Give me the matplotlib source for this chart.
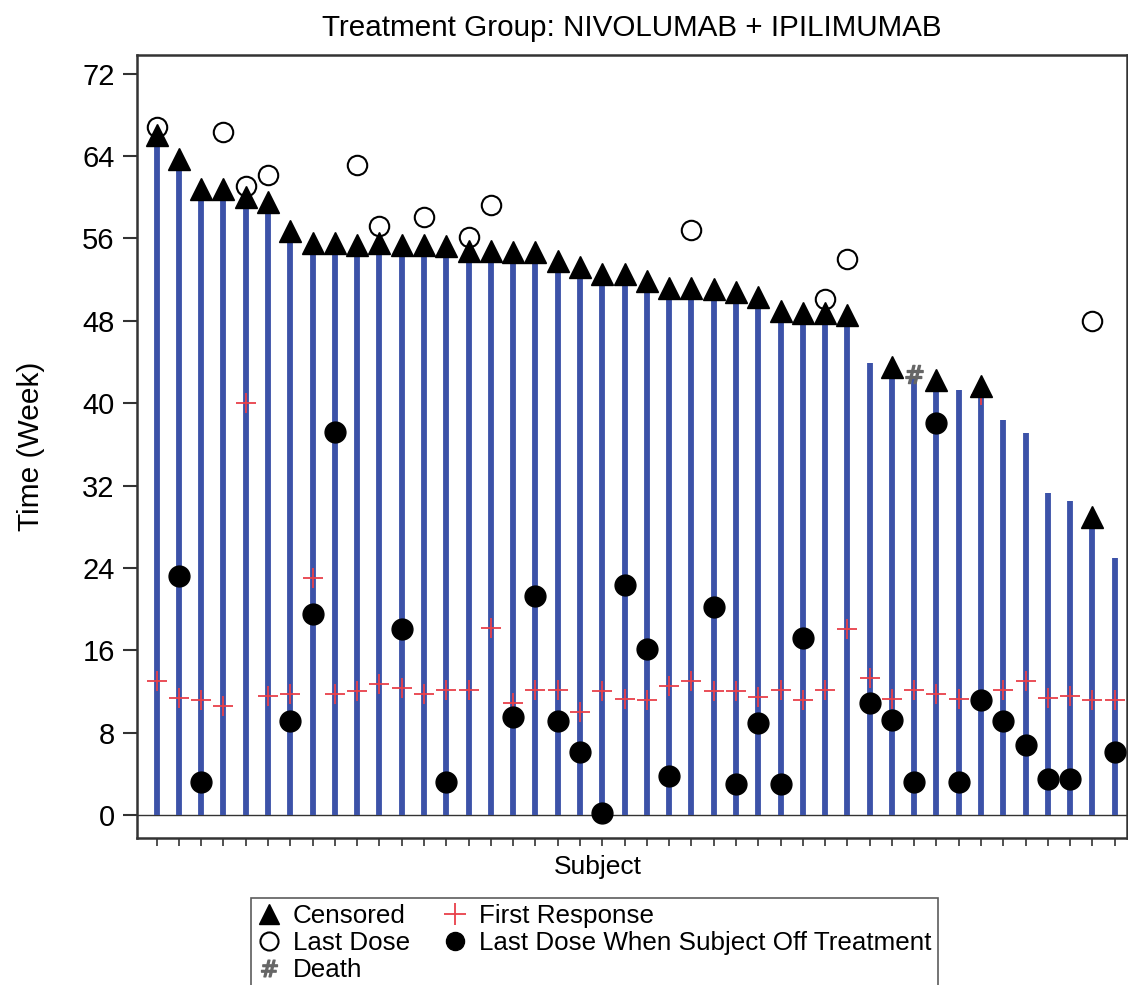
import numpy as np
import matplotlib
matplotlib.use("Agg")
import matplotlib.pyplot as plt
from matplotlib.lines import Line2D

plt.rcParams['font.family'] = ['Liberation Sans', 'DejaVu Sans']

nan = np.nan
# Bar end (weeks) per subject
bar_end = [66.0, 63.7, 60.8, 60.8, 60.0, 59.5, 56.7, 55.6, 55.6, 55.4,
           55.6, 55.4, 55.4, 55.3, 54.8, 54.8, 54.7, 54.7, 53.8, 53.2,
           52.5, 52.5, 51.9, 51.2, 51.2, 51.1, 50.8, 50.3, 49.0, 48.8,
           48.8, 48.6, 43.9, 43.5, 42.6, 42.3, 41.3, 41.7, 38.4, 37.1,
           31.3, 30.5, 29.0, 25.0]
# Censored (triangle) times
censored = [66.0, 63.7, 60.8, 60.8, 60.0, 59.5, 56.7, 55.6, 55.6, 55.4,
            55.6, 55.4, 55.4, 55.3, 54.8, 54.8, 54.7, 54.7, 53.8, 53.2,
            52.5, 52.5, 51.9, 51.2, 51.2, 51.1, 50.8, 50.3, 49.0, 48.8,
            48.8, 48.6, nan, 43.5, nan, 42.3, nan, 41.7, nan, nan,
            nan, nan, 29.0, nan]
# Last dose (open circle)
last_dose = [66.8, nan, nan, 66.3, 61.1, 62.2, nan, nan, nan, 63.1,
             57.2, nan, 58.1, nan, 56.1, 59.2, nan, nan, nan, nan,
             nan, nan, nan, nan, 56.8, nan, nan, nan, nan, nan,
             50.1, 54.0, nan, nan, nan, nan, nan, nan, nan, nan,
             nan, nan, 48.0, nan]
# First response (red plus)
first_response = [13.0, 11.4, 11.2, 10.6, 40.0, 11.6, 11.8, 23.0, 11.8, 12.1,
                  12.7, 12.4, 11.8, 12.2, 12.2, 18.2, 10.9, 12.2, 12.2, 10.0,
                  12.1, 11.3, 11.2, 12.6, 13.0, 12.1, 12.1, 11.5, 12.2, 11.2,
                  12.2, 18.1, 13.3, 11.3, 12.2, 11.8, 11.3, 40.8, 12.2, 13.0,
                  11.4, 11.6, 11.2, 11.2]
# Last dose when subject off treatment (filled circle)
last_dose_off = [nan, 23.2, 3.2, nan, nan, nan, 9.2, 19.5, 37.2, nan,
                 nan, 18.1, nan, 3.2, nan, nan, 9.5, 21.3, 9.2, 6.1,
                 0.2, 22.4, 16.1, 3.8, nan, 20.2, 3.0, 9.0, 3.0, 17.2,
                 nan, nan, 10.9, 9.3, 3.2, 38.1, 3.2, 11.2, 9.2, 6.8,
                 3.5, 3.5, nan, 6.1]
# Death
death = [nan] * 34 + [42.8] + [nan] * 9

y_ticks = [0, 8, 16, 24, 32, 40, 48, 56, 64, 72]

W, H = 1128, 985
fig = plt.figure(figsize=(W / 100, H / 100), dpi=100)
ax = fig.add_axes([137 / W, 1 - 838 / H, (1127 - 137) / W, (838 - 55) / H])

n = len(bar_end)
x = np.arange(n)

ax.axhline(0, color='#333333', lw=1.0, zorder=1)
ax.vlines(x, 0, bar_end, color='#3C52A8', lw=4.2, zorder=2)
ax.plot(x, first_response, ls='none', marker='+', ms=15, mew=1.3,
        color='#E8404A', zorder=3)
ax.plot(x, last_dose_off, ls='none', marker='o', ms=15, color='black',
        zorder=4)
ax.plot(x, censored, ls='none', marker='^', ms=16, color='black', zorder=5)
ax.plot(x, last_dose, ls='none', marker='o', ms=14, mfc='none', mec='black',
        mew=1.5, zorder=5)
ax.plot(x, death, ls='none', marker=r'$\#$', ms=13, color='#666666',
        zorder=5)

ax.set_xlim(-0.88, 43.55)
ax.set_ylim(-2.2, 73.8)
ax.set_yticks(y_ticks)
ax.set_yticklabels([str(t) for t in y_ticks], fontsize=21)
ax.set_xticks(x)
ax.set_xticklabels([])
ax.tick_params(axis='y', length=10, width=1.5, pad=6, color='#333333')
ax.tick_params(axis='x', length=6, width=1.2, color='#333333')
for s in ax.spines.values():
    s.set_linewidth(1.8)
    s.set_color('#333333')

ax.set_ylabel('Time (Week)', fontsize=21.5)
ax.yaxis.set_label_coords(-0.093, 0.5)
ax.set_xlabel('Subject', fontsize=19)
ax.xaxis.set_label_coords(0.465, -0.022)

fig.text(632 / W, 1 - 28 / H, 'Treatment Group: NIVOLUMAB + IPILIMUMAB',
         ha='center', va='center', fontsize=21.3)

handles = [
    Line2D([], [], ls='none', marker='^', ms=14, color='black'),
    Line2D([], [], ls='none', marker='o', ms=13, mfc='none', mec='black', mew=1.5),
    Line2D([], [], ls='none', marker=r'$\#$', ms=12, color='#666666'),
    Line2D([], [], ls='none', marker='+', ms=16, mew=1.3, color='#E8404A'),
    Line2D([], [], ls='none', marker='o', ms=13, color='black'),
]
labels = ['Censored', 'Last Dose', 'Death', 'First Response',
          'Last Dose When Subject Off Treatment']
leg = fig.legend(handles, labels, ncol=2, loc='upper left',
                 bbox_to_anchor=(251 / W, 1 - 898 / H), fontsize=18.7,
                 frameon=True, fancybox=False, edgecolor='#333333',
                 handlelength=0.9, handletextpad=0.45, columnspacing=1.3,
                 labelspacing=0.1, borderpad=0.25, borderaxespad=0)
leg.get_frame().set_linewidth(1.2)

fig.savefig('out.png', dpi=100)
